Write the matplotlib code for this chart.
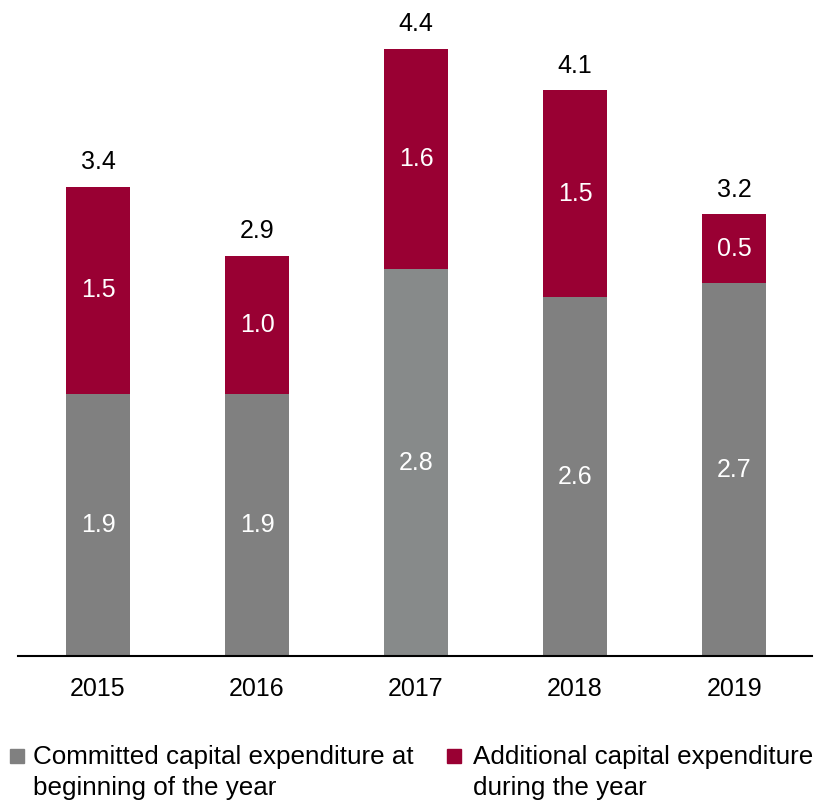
import matplotlib.pyplot as plt
from matplotlib.patches import Rectangle

plt.rcParams['font.family'] = ['Liberation Sans', 'DejaVu Sans']

years = ['2015', '2016', '2017', '2018', '2019']
committed = [1.9, 1.9, 2.8, 2.6, 2.7]
additional = [1.5, 1.0, 1.6, 1.5, 0.5]
totals = [3.4, 2.9, 4.4, 4.1, 3.2]

grey = '#808080'
grey_2017 = '#878a8a'
red = '#990033'

fig = plt.figure(figsize=(8.27, 8.02), dpi=100)
ax = fig.add_axes([18 / 827, 1 - 656 / 802, (812 - 18) / 827, (656 - 21) / 802])

x = range(len(years))
grey_cols = [grey_2017 if y == '2017' else grey for y in years]
b1 = ax.bar(x, committed, width=0.4, color=grey_cols)
b2 = ax.bar(x, additional, width=0.4, bottom=committed, color=red)

for i in x:
    ax.text(i, committed[i] / 2, '%.1f' % committed[i], ha='center', va='center',
            color='white', fontsize=18)
    ax.text(i, committed[i] + additional[i] / 2, '%.1f' % additional[i], ha='center',
            va='center', color='white', fontsize=18)
    ax.annotate('%.1f' % totals[i], (i, committed[i] + additional[i]), xytext=(0, 9),
                textcoords='offset points', ha='center', va='bottom', fontsize=18)

ax.set_xlim(-0.503, 4.49)
ax.set_ylim(0, 4.6)
ax.set_xticks(list(x))
ax.set_xticklabels(years, fontsize=18)
ax.tick_params(axis='x', length=0, pad=15)
ax.set_yticks([])
for s in ['top', 'right', 'left']:
    ax.spines[s].set_visible(False)
ax.spines['bottom'].set_linewidth(1.5)

# legend drawn by hand
def legend_item(x0, tx, text, color):
    fig.add_artist(Rectangle((x0 / 827, 1 - 763 / 802), 14 / 827, 14 / 802,
                             transform=fig.transFigure, color=color))
    fig.text(tx / 827, 1 - 745 / 802, text, fontsize=18.7, va='top',
             linespacing=1.36)

legend_item(10, 33, 'Committed capital expenditure at\nbeginning of the year', grey)
legend_item(447, 473, 'Additional capital expenditure\nduring the year', red)

fig.savefig('out.png', dpi=100)
